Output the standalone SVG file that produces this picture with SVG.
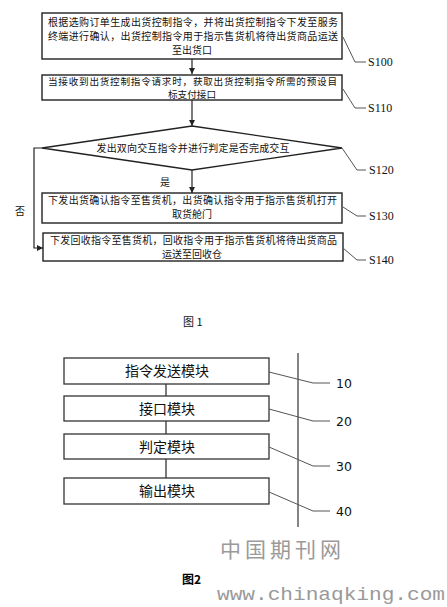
<svg xmlns="http://www.w3.org/2000/svg" width="447" height="607" viewBox="0 0 447 607">
<defs>
<marker id="ah" markerWidth="8" markerHeight="8" refX="7" refY="4" orient="auto" markerUnits="userSpaceOnUse">
<path d="M1,1 L7,4 L1,7 Z" fill="#222"/>
</marker>
<style>
.bx{fill:#fff;stroke:#222;stroke-width:1.4}
.bx2{fill:#fff;stroke:#333;stroke-width:1.3}
.t{font-family:"Noto Sans CJK SC","Noto Sans",sans-serif;font-size:10px;fill:#111}
.tc{font-family:"Noto Sans CJK SC","Noto Sans",sans-serif;font-size:10px;fill:#111;text-anchor:middle}
.lb{font-family:"Liberation Serif","Noto Sans CJK SC",serif;font-size:12px;fill:#111}
.ln{fill:none;stroke:#555;stroke-width:1}
.c{fill:none;stroke:#222;stroke-width:1.2}
.m{font-family:"Noto Sans CJK SC",sans-serif;font-size:14px;fill:#111;text-anchor:middle}
.n{font-family:"DejaVu Sans",sans-serif;font-size:12.5px;fill:#111}
</style>
</defs>
<rect width="447" height="607" fill="#fff"/>

<g id="connectors">
<line class="c" x1="192" y1="59" x2="192" y2="74" marker-end="url(#ah)"/>
<line class="c" x1="192" y1="100" x2="192" y2="126" marker-end="url(#ah)"/>
<line class="c" x1="192" y1="170" x2="192" y2="193" marker-end="url(#ah)"/>
<polyline class="c" points="42,148 34,148 34,248 43,248" marker-end="url(#ah)"/>
<line class="c" x1="166" y1="384" x2="166" y2="396"/>
<line class="c" x1="166" y1="421" x2="166" y2="434"/>
<line class="c" x1="166" y1="459" x2="166" y2="478"/>
</g>

<g id="S100">
<rect class="bx" x="42" y="13" width="300" height="46"/>
<text class="t" x="48" y="26" textLength="290" lengthAdjust="spacing">根据选购订单生成出货控制指令，并将出货控制指令下发至服务</text>
<text class="t" x="48" y="40" textLength="290" lengthAdjust="spacing">终端进行确认，出货控制指令用于指示售货机将待出货商品运送</text>
<text class="tc" x="192" y="54">至出货口</text>
<polyline class="ln" points="343,37 355,62 366,62"/>
<text class="lb" x="368" y="66">S100</text>
</g>

<g id="S110">
<rect class="bx" x="42" y="75" width="300" height="25"/>
<text class="t" x="48" y="84.5" textLength="289" lengthAdjust="spacing" style="font-size:9.6px">当接收到出货控制指令请求时，获取出货控制指令所需的预设目</text>
<text class="tc" x="192" y="98" style="font-size:9.6px">标支付接口</text>
<polyline class="ln" points="343,89 355,108 366,108"/>
<text class="lb" x="368" y="112">S110</text>
</g>

<g id="S120">
<polygon class="bx" points="192,126 342,148 192,170 42,148"/>
<text class="tc" x="193" y="152" textLength="193" lengthAdjust="spacing">发出双向交互指令并进行判定是否完成交互</text>
<polyline class="ln" points="342,148 357,170 366,170"/>
<text class="lb" x="369" y="174">S120</text>
<text class="t" x="160" y="186">是</text>
<text class="t" x="15" y="215">否</text>
</g>

<g id="S130">
<rect class="bx" x="42" y="193" width="300" height="30"/>
<text class="t" x="48" y="204" textLength="289" lengthAdjust="spacing">下发出货确认指令至售货机，出货确认指令用于指示售货机打开</text>
<text class="tc" x="192" y="218">取货舱门</text>
<polyline class="ln" points="343,207 357,216 366,216"/>
<text class="lb" x="369" y="220">S130</text>
</g>

<g id="S140">
<rect class="bx" x="43" y="233" width="300" height="28"/>
<text class="t" x="50" y="244" textLength="287" lengthAdjust="spacing">下发回收指令至售货机，回收指令用于指示售货机将待出货商品</text>
<text class="tc" x="192" y="258">运送至回收仓</text>
<polyline class="ln" points="343,248 357,260 366,260"/>
<text class="lb" x="369" y="264">S140</text>
</g>

<g id="fig1caption">
<text class="t" x="183" y="326" style="font-size:11px">图 1</text>
</g>

<g id="fig2">
<line x1="298" y1="353" x2="298" y2="527" stroke="#333" stroke-width="1.2"/>
</g>

<g id="M10">
<rect class="bx2" x="64" y="358" width="205" height="26"/>
<text class="m" x="167" y="376">指令发送模块</text>
<polyline class="ln" points="269,372 313,383 330,383"/>
<text class="n" x="336" y="388">10</text>
</g>
<g id="M20">
<rect class="bx2" x="64" y="396" width="205" height="25"/>
<text class="m" x="167" y="414">接口模块</text>
<polyline class="ln" points="269,409 313,421 330,421"/>
<text class="n" x="336" y="426">20</text>
</g>
<g id="M30">
<rect class="bx2" x="64" y="434" width="205" height="25"/>
<text class="m" x="167" y="452">判定模块</text>
<polyline class="ln" points="269,447 313,466 330,466"/>
<text class="n" x="336" y="471">30</text>
</g>
<g id="M40">
<rect class="bx2" x="64" y="478" width="205" height="26"/>
<text class="m" x="167" y="496">输出模块</text>
<polyline class="ln" points="269,492 313,511 330,511"/>
<text class="n" x="336" y="516">40</text>
</g>

<g id="watermark">
<text x="220" y="557" style="font-family:'Noto Sans CJK SC',serif;font-size:21px;fill:#9a9a9a;letter-spacing:4px">中国期刊网</text>
<text x="182" y="584" style="font-family:'Noto Sans CJK SC',sans-serif;font-size:12px;font-weight:bold;fill:#000">图2</text>
<text x="217" y="600" textLength="228" lengthAdjust="spacingAndGlyphs" style="font-family:'Liberation Mono',monospace;font-size:19px;fill:#999">www.chinaqking.com</text>
</g>
</svg>
